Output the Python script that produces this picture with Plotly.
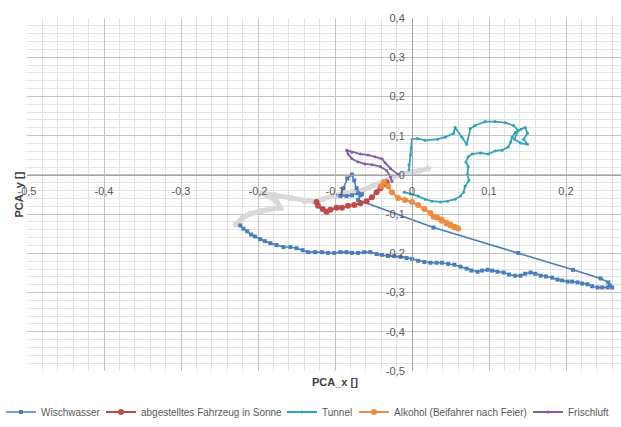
import plotly.graph_objects as go

# ---------------- data ----------------
series_names = ["Wischwasser", "abgestelltes Fahrzeug in Sonne", "Tunnel",
                "Alkohol (Beifahrer nach Feier)", "Frischluft"]

wisch_x = [-0.223, -0.219, -0.214, -0.209, -0.204, -0.197, -0.191, -0.184, -0.176, -0.167,
           -0.158, -0.150, -0.142, -0.135, -0.126, -0.117, -0.109, -0.101, -0.093, -0.085,
           -0.078, -0.070, -0.062, -0.054, -0.046, -0.039, -0.031, -0.023, -0.015, -0.007,
           0.000, 0.008, 0.016, 0.024, 0.032, 0.039, 0.047, 0.055, 0.063, 0.071,
           0.077, 0.085, 0.091, 0.098, 0.104, 0.111, 0.119, 0.126, 0.134, 0.141,
           0.147, 0.154, 0.160, 0.167, 0.174, 0.182, 0.189, 0.195, 0.202, 0.208,
           0.215, 0.221, 0.228, 0.234, 0.241, 0.247, 0.254, 0.257, 0.260,
           0.255, 0.245, 0.209, 0.138, 0.028, -0.070,
           -0.067, -0.072, -0.075, -0.078, -0.084, -0.089, -0.093, -0.085, -0.078, -0.070, -0.065]
wisch_y = [-0.129, -0.137, -0.144, -0.152, -0.157, -0.164, -0.169, -0.174, -0.179, -0.184,
           -0.184, -0.187, -0.192, -0.197, -0.197, -0.197, -0.199, -0.199, -0.197, -0.197,
           -0.199, -0.199, -0.197, -0.197, -0.202, -0.204, -0.207, -0.207, -0.209, -0.212,
           -0.214, -0.219, -0.222, -0.224, -0.224, -0.224, -0.227, -0.229, -0.234, -0.239,
           -0.244, -0.247, -0.244, -0.242, -0.244, -0.247, -0.249, -0.254, -0.257, -0.257,
           -0.252, -0.249, -0.252, -0.257, -0.259, -0.262, -0.267, -0.269, -0.272, -0.272,
           -0.274, -0.277, -0.279, -0.284, -0.287, -0.287, -0.287, -0.282, -0.287,
           -0.274, -0.264, -0.242, -0.199, -0.134, -0.064,
           -0.052, -0.034, -0.014, 0.001, -0.009, -0.034, -0.054, -0.054, -0.052, -0.047, -0.049]

sonne_x = [-0.124, -0.122, -0.116, -0.111, -0.106, -0.098, -0.091, -0.083, -0.075, -0.067,
           -0.059, -0.052, -0.046, -0.041, -0.036, -0.033]
sonne_y = [-0.069, -0.079, -0.087, -0.094, -0.089, -0.084, -0.084, -0.079, -0.077, -0.072,
           -0.067, -0.057, -0.044, -0.034, -0.024, -0.019]

tunnel_x = [-0.010, -0.002, 0.008, 0.017, 0.026, 0.037, 0.046, 0.056, 0.063, 0.067,
            0.069, 0.074, 0.072, 0.073, 0.070, 0.073, 0.078, 0.089, 0.099, 0.108,
            0.117, 0.125, 0.128, 0.130, 0.134, 0.141, 0.147, 0.150, 0.145, 0.150,
            0.141, 0.133, 0.138, 0.132, 0.121, 0.108, 0.095, 0.082, 0.076, 0.071,
            0.065, 0.056, 0.054, 0.043, 0.033, 0.017, 0.007, 0.000, -0.001, -0.002,
            -0.004, -0.004]
tunnel_y = [-0.044, -0.049, -0.054, -0.062, -0.067, -0.069, -0.067, -0.062, -0.054, -0.044,
            -0.029, -0.014, 0.001, 0.021, 0.033, 0.046, 0.053, 0.056, 0.053, 0.061,
            0.063, 0.071, 0.083, 0.096, 0.108, 0.116, 0.121, 0.106, 0.091, 0.078,
            0.081, 0.091, 0.113, 0.126, 0.133, 0.136, 0.136, 0.126, 0.118, 0.078,
            0.096, 0.121, 0.106, 0.096, 0.091, 0.088, 0.093, 0.091, 0.071, 0.051,
            0.026, 0.013]

alk_x = [-0.040, -0.036, -0.031, -0.026, -0.018, -0.009, 0.000, 0.008, 0.016, 0.024,
         0.028, 0.033, 0.039, 0.045, 0.050, 0.055, 0.060, 0.056, 0.050, 0.045, 0.038]
alk_y = [-0.029, -0.019, -0.029, -0.044, -0.059, -0.064, -0.069, -0.077, -0.087, -0.097,
         -0.107, -0.109, -0.117, -0.122, -0.127, -0.132, -0.137, -0.134, -0.129, -0.124, -0.114]

frisch_x = [-0.018, -0.028, -0.035, -0.039, -0.048, -0.057, -0.067, -0.078, -0.085,
            -0.083, -0.078, -0.070, -0.061, -0.052, -0.041, -0.033, -0.028, -0.026]
frisch_y = [0.001, 0.016, 0.031, 0.041, 0.046, 0.051, 0.053, 0.058, 0.063,
            0.053, 0.041, 0.033, 0.028, 0.026, 0.021, 0.011, -0.004, -0.017]

grey_x = [-0.229, -0.220, -0.210, -0.197, -0.184, -0.171, -0.176, -0.187, -0.194, -0.178,
          -0.158, -0.139, -0.126, -0.116, -0.104, -0.091, -0.078, -0.064, -0.052, -0.039,
          -0.026, -0.015, -0.002, 0.011, 0.021]
grey_y = [-0.127, -0.109, -0.099, -0.092, -0.087, -0.084, -0.067, -0.054, -0.047, -0.052,
          -0.059, -0.067, -0.069, -0.062, -0.054, -0.049, -0.044, -0.039, -0.029, -0.019,
          -0.007, 0.001, 0.006, 0.011, 0.016]

x_tickvals = [-0.5, -0.4, -0.3, -0.2, -0.1, 0.0, 0.1, 0.2]
x_ticktext = ["-0,5", "-0,4", "-0,3", "-0,2", "-0,1", "0", "0,1", "0,2"]
y_tickvals = [-0.5, -0.4, -0.3, -0.2, -0.1, 0.0, 0.1, 0.2, 0.3, 0.4]
y_ticktext = ["-0,5", "-0,4", "-0,3", "-0,2", "-0,1", "0", "0,1", "0,2", "0,3", "0,4"]

colors = ["#4a7ebb", "#be4b48", "#34a2ba", "#ef8b3c", "#7e60a6"]
grey_color = "#d9d9d9"

FONT = "Liberation Sans"
TXT = "#595959"

fig = go.Figure()

# grey series (its legend entry lies outside the visible picture)
fig.add_trace(go.Scatter(x=grey_x, y=grey_y, mode="lines+markers", name="Serie 6",
                         showlegend=False,
                         line=dict(color=grey_color, width=5),
                         marker=dict(color=grey_color, size=6)))

data = [(wisch_x, wisch_y), (sonne_x, sonne_y), (tunnel_x, tunnel_y), (alk_x, alk_y), (frisch_x, frisch_y)]
widths = [1.6, 2, 1.8, 2, 1.8]
msizes = [4, 6, 3, 6, 3]
legend_w = [55, 136, 27, 129, 40]   # slightly tightened legend entry widths
for i, ((xs, ys), name) in enumerate(zip(data, series_names)):
    fig.add_trace(go.Scatter(
        x=xs, y=ys, mode="lines+markers", name=name, legendwidth=legend_w[i],
        line=dict(color=colors[i], width=widths[i]),
        marker=dict(color=colors[i], size=msizes[i], symbol="square" if i == 0 else "circle")))

L, T, W, H = 27, 18, 594, 360
xmin, xmax = -0.5, -0.5 + W / 770.0
ymin, ymax = -0.5, 0.4

axis_common = dict(
    showgrid=True, gridcolor="#c4c4c4", gridwidth=1,
    zeroline=False, showline=True, linecolor="#a6a6a6", linewidth=1,
    ticks="", tickfont=dict(family=FONT, size=11, color=TXT),
    minor=dict(dtick=0.02, tick0=0, showgrid=True, gridcolor="#e3e3e3", gridwidth=1),
    fixedrange=True,
)

fig.update_layout(
    width=621, height=427,
    margin=dict(l=L, r=621 - L - W, t=T, b=427 - T - H, pad=0),
    paper_bgcolor="white", plot_bgcolor="white",
    font=dict(family=FONT, size=11, color=TXT),
    xaxis=dict(range=[xmin, xmax], tickvals=x_tickvals, ticktext=x_ticktext,
               anchor="free", position=(0 - ymin) / (ymax - ymin),
               ticklabelstandoff=6, **axis_common),
    yaxis=dict(range=[ymin, ymax], tickvals=y_tickvals, ticktext=y_ticktext,
               anchor="free", position=(0 - xmin) / (xmax - xmin),
               ticklabelstandoff=5, **axis_common),
    showlegend=True,
    legend=dict(orientation="h", x=(1 - L) / W, xanchor="left", y=-0.075, yanchor="top",
                font=dict(family=FONT, size=10, color=TXT), bgcolor="rgba(0,0,0,0)",
                itemwidth=30, traceorder="normal"),
    annotations=[
        dict(text="<b>PCA_x []</b>", xref="paper", yref="paper", x=(335 - L) / W, y=-(389 - (T + H)) / H,
             xanchor="center", yanchor="middle", showarrow=False,
             font=dict(family=FONT, size=11, color="#404040")),
        dict(text="<b>PCA_y []</b>", xref="paper", yref="paper", x=(18 - L) / W, y=0.5,
             xanchor="center", yanchor="middle", showarrow=False, textangle=-90,
             font=dict(family=FONT, size=11, color="#404040")),
    ],
)

fig.write_html("out.html")
